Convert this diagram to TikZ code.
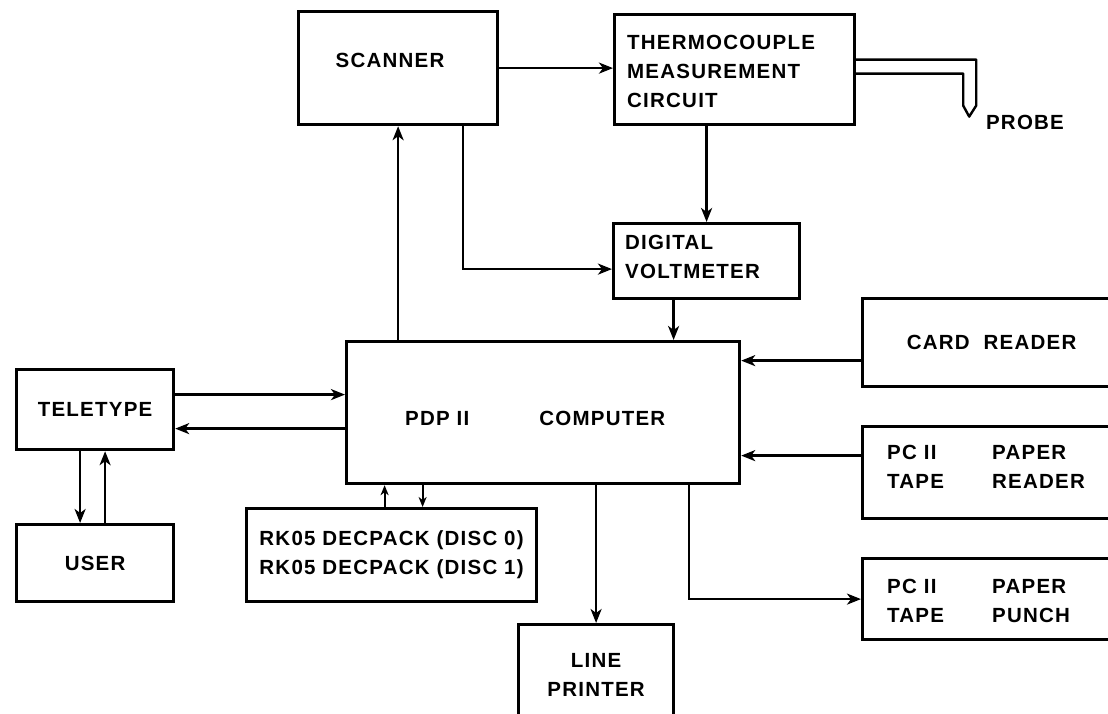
\documentclass[tikz,border=0pt]{standalone}
\usepackage{fontspec}
\setmainfont{Liberation Sans}[LetterSpace=6]
\usetikzlibrary{arrows.meta,positioning,calc}

\begin{document}
\begin{tikzpicture}[x=1pt,y=-1pt,
    font=\fontsize{20.5}{29}\selectfont\bfseries,
    blk/.style={draw,line width=3.2pt,inner sep=0pt,align=center,anchor=north west},
    txt/.style={align=left,inner sep=0pt},
    arr/.style={line width=2.4pt,-{Stealth[length=14pt,width=11pt,inset=4pt]}},
    arrs/.style={line width=2.2pt,-{Stealth[length=10pt,width=8pt,inset=3pt]}},
    wire/.style={line width=2.4pt,line join=round}]
  \useasboundingbox (0,0) rectangle (1108,713);
  \clip (0,0) rectangle (1108,713);

  % boxes
  \node[blk,minimum width=199,minimum height=113] (scanner) at (297,10) {};
  \node[blk,minimum width=240,minimum height=110] (thermo) at (613,13) {};
  \node[blk,minimum width=186,minimum height=75] (dvm) at (612,222) {};
  \node[blk,minimum width=393,minimum height=142] (comp) at (345,340) {};
  \node[blk,minimum width=157,minimum height=80] (tty) at (15,368) {TELETYPE};
  \node[blk,minimum width=157,minimum height=77] (user) at (15,523) {USER};
  \node[blk,minimum width=290,minimum height=93] (rk) at (245,507)
    {RK05 DECPACK (DISC 0)\\RK05 DECPACK (DISC 1)};
  \node[blk,minimum width=155,minimum height=100] (printer) at (517,623) {LINE\\PRINTER};
  \node[blk,minimum width=258,minimum height=88] (card) at (861,297) {CARD\ \ READER};
  \node[blk,minimum width=258,minimum height=92] (reader) at (861,425) {};
  \node[blk,minimum width=258,minimum height=81] (punch) at (861,557) {};

  % texts
  \node (scannertxt) at (390,60) {SCANNER};
  \node[txt,anchor=west] (thermotxt) at (627,71) {THERMOCOUPLE\\MEASUREMENT\\CIRCUIT};
  \node[txt,anchor=west] (dvmtxt) at (625,257) {DIGITAL\\VOLTMETER};
  \node[txt,anchor=west] (comptxt) at (405,418) {PDP II\hspace{70pt}COMPUTER};
  \node[txt,anchor=west] (readertxt) at (887,467)
    {\makebox[105pt][l]{PC II}PAPER\\\makebox[105pt][l]{TAPE}READER};
  \node[txt,anchor=west] (punchtxt) at (887,601)
    {\makebox[105pt][l]{PC II}PAPER\\\makebox[105pt][l]{TAPE}PUNCH};
  \node (probe) at (1025,122) {PROBE};

  % probe
  \draw[wire] ([yshift=10pt]thermo.east) -- ++(120,0) -- ++(0,46) -- ++(-7,11)
    -- ++(-6,-11) -- ++(0,-32) -- ([yshift=-4pt]thermo.east);

  % connections
  \draw[arr] (scanner.east) -- (scanner.east -| thermo.west);
  \draw[arr] (thermo.south -| dvm.north) -- (dvm.north);
  \draw[arr] ([xshift=65pt]scanner.south) |- ([yshift=-8pt]dvm.west);
  \draw[arr] ([xshift=-33pt]dvm.south) -- ([xshift=-33pt]dvm.south |- comp.north);
  \draw[arr] (comp.north -| scanner.south) -- (scanner.south);
  \draw[arr] ([yshift=-18pt]card.west) -- ([yshift=-18pt]card.west -| comp.east);
  \draw[arr] ([yshift=17pt]reader.west) -- ([yshift=17pt]reader.west -| comp.east);
  \draw[arr] ([xshift=146pt]comp.south) |- (punch.west);
  \draw[arr] (comp.south -| printer.north) -- (printer.north);
  \draw[arrs] ([xshift=-7pt]rk.north) -- ([xshift=-7pt]rk.north |- comp.south);
  \draw[arrs] ([xshift=31pt]rk.north |- comp.south) -- ([xshift=31pt]rk.north);
  \draw[arr] ([yshift=15pt]tty.east) -- ([yshift=15pt]tty.east -| comp.west);
  \draw[arr] ([yshift=-19pt]tty.east -| comp.west) -- ([yshift=-19pt]tty.east);
  \draw[arr] ([xshift=-15pt]tty.south) -- ([xshift=-15pt]tty.south |- user.north);
  \draw[arr] ([xshift=10pt]user.north) -- ([xshift=10pt]user.north |- tty.south);
\end{tikzpicture}
\end{document}
